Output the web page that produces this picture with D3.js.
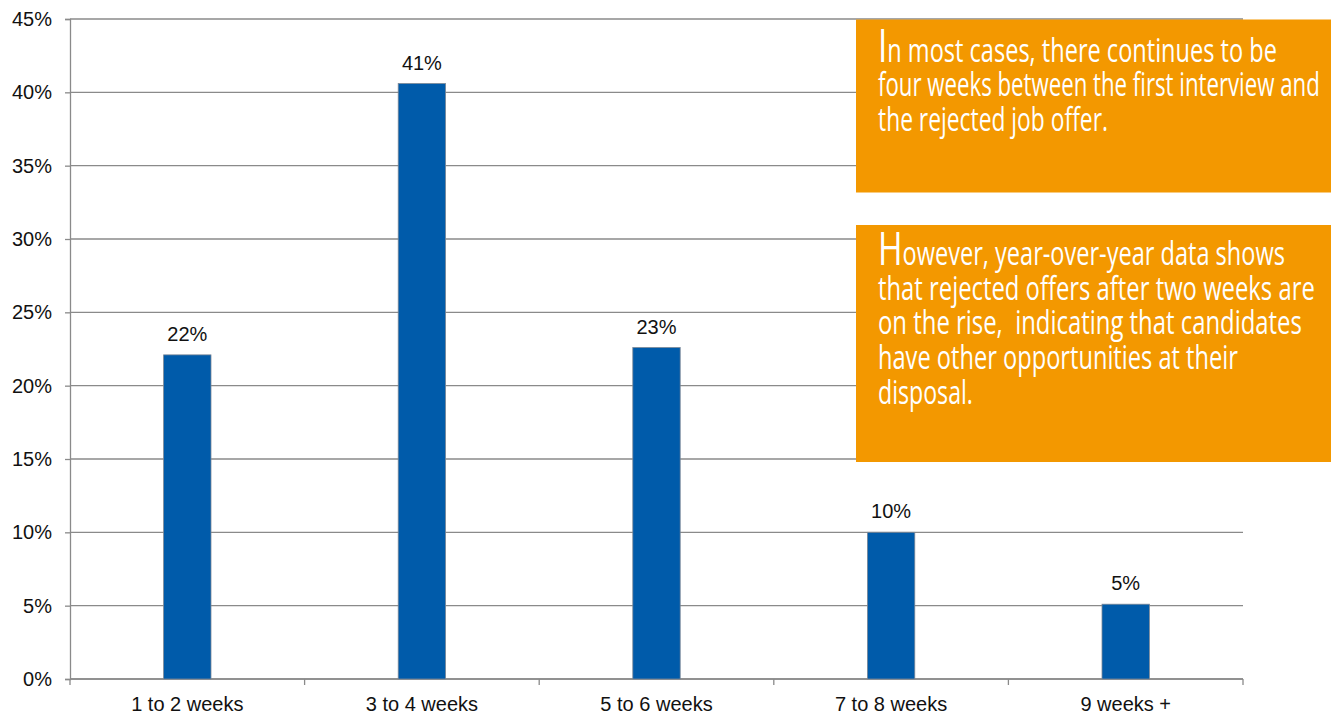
<!DOCTYPE html>
<html>
<head>
<meta charset="utf-8">
<script src="https://cdn.jsdelivr.net/npm/d3@7"></script>
<style>
  html, body { margin: 0; padding: 0; background: #fff; }
  svg { display: block; }
  .note text { white-space: pre; }
</style>
</head>
<body>
<svg id="chart" width="1336" height="715"></svg>
<script>
// Time between first interview and a rejected offer
const categories = ["1 to 2 weeks", "3 to 4 weeks", "5 to 6 weeks", "7 to 8 weeks", "9 weeks +"];
const shares = [0.221, 0.406, 0.226, 0.100, 0.051];
const yTicks = [0, 0.05, 0.10, 0.15, 0.20, 0.25, 0.30, 0.35, 0.40, 0.45];

// Callout texts (first letter is set as a raised initial)
const noteTop = [
  "In most cases, there continues to be",
  "four weeks between the first interview and",
  "the rejected job offer."
];
const noteBottom = [
  "However, year-over-year data shows",
  "that rejected offers after two weeks are",
  "on the rise,  indicating that candidates",
  "have other opportunities at their",
  "disposal."
];

// Layout
const plot = { left: 70, right: 1243, top: 19, bottom: 679 };
const boxes = [
  { lines: noteTop,    x: 856, y: 19.5, w: 475, h: 173, firstBaseline: 61.5, widths: [399, 442, 230] },
  { lines: noteBottom, x: 856, y: 225,  w: 475, h: 237, firstBaseline: 265,  widths: [407, 437, 424, 360, 95] }
];
const lineStep = 34.7;

const svg = d3.select("#chart");
const gridColor = "#8a8a8a";
const barColor = "#005baa";
const orange = "#f39800";
const labelFont = "'Liberation Sans', Arial, sans-serif";
const labelSize = 20;

const x = d3.scaleBand().domain(categories).range([plot.left, plot.right]).paddingInner(0).paddingOuter(0);
const y = d3.scaleLinear().domain([0, 0.45]).range([plot.bottom, plot.top]);

// Horizontal gridlines
svg.append("g")
  .selectAll("line")
  .data(yTicks)
  .join("line")
  .attr("x1", plot.left).attr("x2", plot.right)
  .attr("y1", d => y(d)).attr("y2", d => y(d))
  .attr("stroke", gridColor).attr("stroke-width", 1.3);

// Y axis
const yAxis = d3.axisLeft(y).tickValues(yTicks).tickFormat(d3.format(".0%")).tickSize(5).tickPadding(13);
const gy = svg.append("g").attr("transform", `translate(${plot.left},0)`).call(yAxis);
gy.select(".domain").attr("stroke", gridColor).attr("stroke-width", 1.3);
gy.selectAll(".tick line").attr("stroke", gridColor).attr("stroke-width", 1.3);
gy.selectAll(".tick text")
  .attr("font-family", labelFont)
  .attr("font-size", labelSize).attr("fill", "#111");

// X axis with tick marks at category boundaries
const gx = svg.append("g").attr("transform", `translate(0,${plot.bottom})`);
gx.append("line")
  .attr("x1", plot.left).attr("x2", plot.right)
  .attr("stroke", gridColor).attr("stroke-width", 1.3);
const boundaries = categories.map(c => x(c)).concat([x(categories[categories.length - 1]) + x.bandwidth()]);
gx.selectAll("line.tk")
  .data(boundaries)
  .join("line").attr("class", "tk")
  .attr("x1", d => d).attr("x2", d => d)
  .attr("y1", 0).attr("y2", 6)
  .attr("stroke", gridColor).attr("stroke-width", 1.3);
gx.selectAll("text")
  .data(categories)
  .join("text")
  .attr("x", d => x(d) + x.bandwidth() / 2)
  .attr("y", 32)
  .attr("text-anchor", "middle")
  .attr("font-family", labelFont)
  .attr("font-size", labelSize).attr("fill", "#111")
  .text(d => d);

// Bars
const barW = x.bandwidth() * 0.202;
const data = categories.map((c, i) => ({ cat: c, v: shares[i] }));
svg.append("g")
  .selectAll("rect")
  .data(data)
  .join("rect")
  .attr("x", d => x(d.cat) + (x.bandwidth() - barW) / 2)
  .attr("y", d => y(d.v))
  .attr("width", barW)
  .attr("height", d => y(0) - y(d.v))
  .attr("fill", barColor)
  .attr("stroke", "#7b8796").attr("stroke-width", 0.8);

// Value labels
svg.append("g")
  .selectAll("text")
  .data(data)
  .join("text")
  .attr("x", d => x(d.cat) + x.bandwidth() / 2)
  .attr("y", d => y(d.v) - 14)
  .attr("text-anchor", "middle")
  .attr("font-family", labelFont)
  .attr("font-size", labelSize).attr("fill", "#111")
  .text(d => d3.format(".0%")(d.v));

// Orange callout boxes; each line is squeezed horizontally to a condensed width
const notes = svg.append("g").attr("class", "note");
boxes.forEach(b => {
  notes.append("rect")
    .attr("x", b.x).attr("y", b.y).attr("width", b.w).attr("height", b.h)
    .attr("fill", orange);
  b.lines.forEach((line, i) => {
    const t = notes.append("text")
      .attr("x", 0).attr("y", 0)
      .attr("font-family", "'Open Sans', 'Noto Sans', sans-serif")
      .attr("font-size", 32.5)
      .attr("fill", "#fff");
    if (i === 0) {
      t.append("tspan").attr("font-size", 46).text(line[0]);
      t.append("tspan").text(line.slice(1));
    } else {
      t.text(line);
    }
    const natural = t.node().getComputedTextLength();
    const sx = b.widths[i] / natural;
    t.attr("transform", `translate(${b.x + 22},${b.firstBaseline + i * lineStep}) scale(${sx},1)`);
  });
});
</script>
</body>
</html>
